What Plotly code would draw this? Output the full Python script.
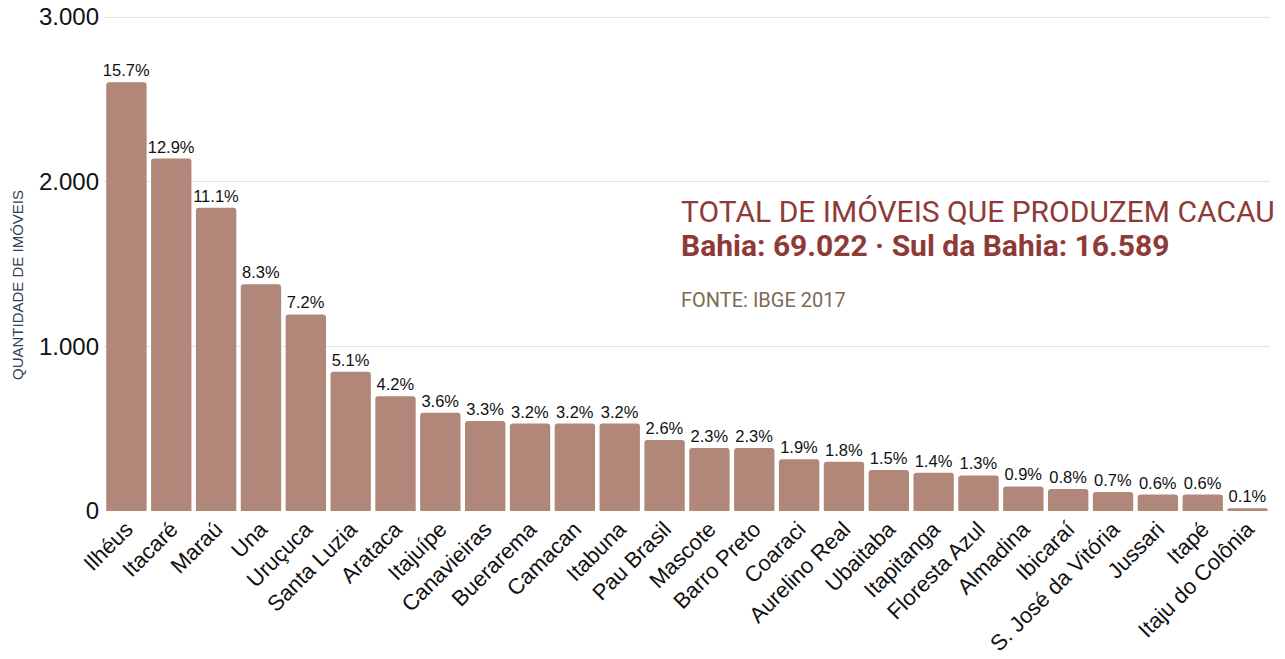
import plotly.graph_objects as go

municipios = ["Ilhéus", "Itacaré", "Maraú", "Una", "Uruçuca", "Santa Luzia", "Arataca", "Itajuípe",
              "Canavieiras", "Buerarema", "Camacan", "Itabuna", "Pau Brasil", "Mascote", "Barro Preto",
              "Coaraci", "Aurelino Real", "Ubaitaba", "Itapitanga", "Floresta Azul", "Almadina",
              "Ibicaraí", "S. José da Vitória", "Jussari", "Itapé", "Itaju do Colônia"]
percentuais = [15.7, 12.9, 11.1, 8.3, 7.2, 5.1, 4.2, 3.6, 3.3, 3.2, 3.2, 3.2, 2.6, 2.3, 2.3,
               1.9, 1.8, 1.5, 1.4, 1.3, 0.9, 0.8, 0.7, 0.6, 0.6, 0.1]
imoveis = [2604, 2140, 1841, 1377, 1194, 846, 697, 597, 547, 531, 531, 531, 431, 382, 382,
           315, 299, 249, 232, 216, 149, 133, 116, 100, 100, 17]
y_ticks = [0, 1000, 2000, 3000]
y_tick_labels = ["0", "1.000", "2.000", "3.000"]

# plot area geometry in page pixels (body margin removed via post_script)
W, H = 1285, 659
L, R, T, B = 104, 1270, 14, 511
y_max = 3000 * (B - T) / (B - 17)

fig = go.Figure(go.Bar(
    x=municipios, y=imoveis,
    text=[f"{p}%" for p in percentuais],
    textposition="outside", cliponaxis=False, constraintext="none",
    textfont=dict(family="Liberation Sans, Arial", size=16.5, color="#111111"),
    marker=dict(color="#b08779", line=dict(width=0), cornerradius=3),
    hoverinfo="skip",
))

fig.update_layout(
    width=W, height=H,
    margin=dict(l=L, r=W - R, t=T, b=H - B),
    paper_bgcolor="white", plot_bgcolor="white",
    bargap=0.1, showlegend=False,
    font=dict(family="Liberation Sans, Arial", color="#111111"),
    xaxis=dict(tickangle=-45, tickfont=dict(size=22, color="#111111"), showgrid=False,
               showline=False, ticks="", automargin=False),
    yaxis=dict(range=[0, y_max], tickvals=y_ticks, ticktext=y_tick_labels,
               tickfont=dict(size=24, color="#111111"), showgrid=True, gridcolor="#e3e3e3",
               gridwidth=1, zeroline=False, showline=False, ticks="", automargin=False,
               ticklabelstandoff=4, ticklabeloverflow="allow"),
)


def px_x(x):
    return (x - L) / (R - L)


def px_y(y):
    return (B - y) / (B - T)


fig.add_annotation(
    xref="paper", yref="paper", x=px_x(17), y=px_y(285), xanchor="center", yanchor="middle",
    showarrow=False, textangle=-90, text="QUANTIDADE DE IMÓVEIS",
    font=dict(family="Liberation Sans, Arial", size=15, color="#2f4257"),
)
fig.add_annotation(
    xref="paper", yref="paper", x=px_x(679), y=px_y(212),
    xanchor="left", yanchor="middle", showarrow=False,
    text="TOTAL DE IMÓVEIS QUE PRODUZEM CACAU",
    font=dict(family="Roboto", size=30, color="#8e3b38"),
)
fig.add_annotation(
    xref="paper", yref="paper", x=px_x(679), y=px_y(245),
    xanchor="left", yanchor="middle", showarrow=False,
    text="<b>Bahia: 69.022 · Sul da Bahia: 16.589</b>",
    font=dict(family="Roboto", size=30, color="#8e3b38"),
)
fig.add_annotation(
    xref="paper", yref="paper", x=px_x(679), y=px_y(300),
    xanchor="left", yanchor="middle", showarrow=False,
    text="FONTE: IBGE 2017",
    font=dict(family="Roboto", size=20, color="#7d6a52"),
)

fig.write_html("out.html", config={"displayModeBar": False},
               post_script="document.body.style.margin='0';")
